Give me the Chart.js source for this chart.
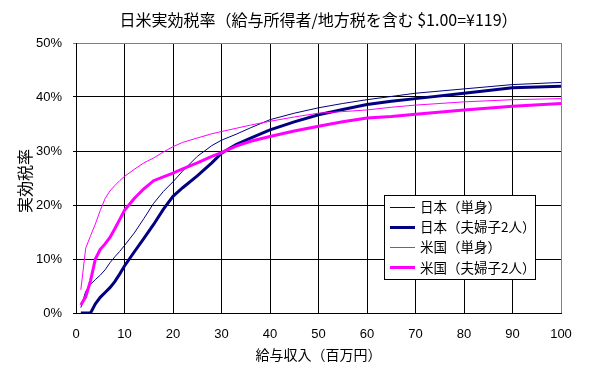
<!DOCTYPE html>
<html>
<head>
<meta charset="utf-8">
<script src="https://cdn.jsdelivr.net/npm/chart.js@4/dist/chart.umd.min.js"></script>
<style>
  html, body { margin: 0; padding: 0; background: #fff; }
  #wrap { width: 589px; height: 373px; }
</style>
</head>
<body>
<div id="wrap"><canvas id="c" width="589" height="373"></canvas></div>
<script>
// income in million yen (x) and effective tax rate in % (y)
const incomes    = [1, 2, 3, 4, 5, 6, 7, 8, 9, 10, 12, 14, 16, 18, 20, 22, 25, 28, 30, 33, 36, 40, 45, 50, 55, 60, 65, 70, 80, 90, 100];
const jpSingle   = [1.0, 4.0, 5.3, 6.2, 7.0, 8.0, 9.3, 10.4, 11.4, 12.5, 14.8, 17.5, 20.3, 22.5, 24.3, 26.3, 29.0, 31.0, 32.0, 33.1, 34.3, 35.8, 37.0, 38.0, 38.8, 39.5, 40.1, 40.7, 41.5, 42.3, 42.7];
const jpCouple   = [0, 0, 0, 1.7, 2.9, 3.8, 4.7, 5.8, 7.2, 8.7, 11.3, 13.8, 16.4, 19.2, 21.6, 23.2, 25.4, 27.8, 29.6, 31.2, 32.4, 33.9, 35.4, 36.7, 37.7, 38.6, 39.2, 39.7, 40.7, 41.7, 42.0];
const usSingle   = [4.3, 12.0, 14.3, 16.5, 19.0, 21.2, 22.6, 23.6, 24.5, 25.3, 26.6, 27.8, 28.7, 29.8, 30.8, 31.6, 32.4, 33.2, 33.6, 34.2, 34.8, 35.5, 36.3, 37.0, 37.3, 37.6, 38.1, 38.5, 39.1, 39.5, 39.7];
const usCouple   = [1.5, 3.0, 6.0, 10.0, 11.8, 12.8, 14.0, 15.6, 17.3, 19.0, 21.2, 23.0, 24.5, 25.2, 25.9, 26.7, 27.8, 29.0, 29.7, 30.9, 31.8, 32.7, 33.7, 34.6, 35.4, 36.1, 36.4, 36.8, 37.6, 38.3, 38.8];

const seriesNames = ['日本（単身）', '日本（夫婦子2人）', '米国（単身）', '米国（夫婦子2人）'];
const chartTitle = '日米実効税率（給与所得者/地方税を含む $1.00=¥119）';
const xTitle = '給与収入（百万円）';
const yTitle = '実効税率';

const NAVY = '#000080';
const MAGENTA = '#ff00ff';
const JP_FONT = '"Noto Sans CJK JP", sans-serif';

const toPts = (arr) => incomes.map((x, i) => ({x: x, y: arr[i]}));

const makeSet = (label, arr, color, width, order) => ({
    label: label,
    data: toPts(arr),
    borderColor: color,
    backgroundColor: color,
    borderWidth: width,
    pointRadius: 0,
    tension: 0,
    fill: false,
    order: order
});

// titles and the boxed legend inside the plot
const decor = {
    id: 'decor',
    afterDraw(chart) {
        const ctx = chart.ctx;
        const area = chart.chartArea;
        const cx = (area.left + area.right) / 2;
        ctx.save();
        ctx.fillStyle = '#000';
        ctx.textAlign = 'center';
        ctx.textBaseline = 'middle';

        ctx.font = '16px ' + JP_FONT;
        ctx.fillText(chartTitle, cx, 20);

        ctx.font = '14px ' + JP_FONT;
        ctx.fillText(xTitle, cx, 355);

        ctx.save();
        ctx.translate(25, (area.top + area.bottom) / 2 + 3);
        ctx.rotate(-Math.PI / 2);
        ctx.font = '16px ' + JP_FONT;
        ctx.fillText(yTitle, 0, 0);
        ctx.restore();

        // legend
        const bx = 384.5, by = 195.5, bw = 151, bh = 84;
        ctx.fillStyle = '#fff';
        ctx.fillRect(bx, by, bw, bh);
        ctx.strokeStyle = '#000';
        ctx.lineWidth = 1;
        ctx.strokeRect(bx, by, bw, bh);
        ctx.font = '13.5px ' + JP_FONT;
        ctx.textAlign = 'left';
        chart.data.datasets.forEach((ds, i) => {
            const y = 206.5 + i * 20.3;
            ctx.strokeStyle = ds.borderColor;
            ctx.lineWidth = ds.borderWidth;
            ctx.beginPath();
            ctx.moveTo(390, Math.round(y) + (ds.borderWidth % 2 ? 0.5 : 0));
            ctx.lineTo(415, Math.round(y) + (ds.borderWidth % 2 ? 0.5 : 0));
            ctx.stroke();
            ctx.fillStyle = '#000';
            ctx.fillText(ds.label, 420, y);
        });
        ctx.restore();
    }
};

const config = {
    type: 'line',
    data: {
        datasets: [
            makeSet(seriesNames[0], jpSingle, NAVY, 1, 4),
            makeSet(seriesNames[1], jpCouple, NAVY, 3, 3),
            makeSet(seriesNames[2], usSingle, MAGENTA, 1, 2),
            makeSet(seriesNames[3], usCouple, MAGENTA, 3, 1)
        ]
    },
    options: {
        responsive: false,
        animation: false,
        devicePixelRatio: 1,
        layout: { padding: { left: 0, right: 28, top: 43, bottom: 0 } },
        plugins: {
            legend: { display: false },
            title: { display: false },
            tooltip: { enabled: false }
        },
        scales: {
            x: {
                type: 'linear',
                min: 0,
                max: 100,
                afterFit: (s) => { s.height = 60; },
                ticks: {
                    stepSize: 10,
                    color: '#000',
                    padding: 14,
                    maxRotation: 0,
                    font: { family: '"Liberation Sans", Arial, sans-serif', size: 13 }
                },
                grid: {
                    color: (c) => (c.tick && c.tick.value === 100) ? '#808080' : '#000',
                    lineWidth: 1,
                    drawTicks: false
                },
                border: { color: '#000', width: 1 }
            },
            y: {
                min: 0,
                max: 50,
                afterFit: (s) => { s.width = 76; },
                ticks: {
                    stepSize: 10,
                    color: '#000',
                    padding: 11,
                    callback: (v) => v + '%',
                    font: { family: '"Liberation Sans", Arial, sans-serif', size: 13 }
                },
                grid: {
                    color: (c) => (c.tick && c.tick.value === 50) ? '#808080' : '#000',
                    lineWidth: 1,
                    tickLength: 3
                },
                border: { color: '#000', width: 1 }
            }
        }
    },
    plugins: [decor]
};

let chart = new Chart(document.getElementById('c').getContext('2d'), config);
</script>
</body>
</html>
